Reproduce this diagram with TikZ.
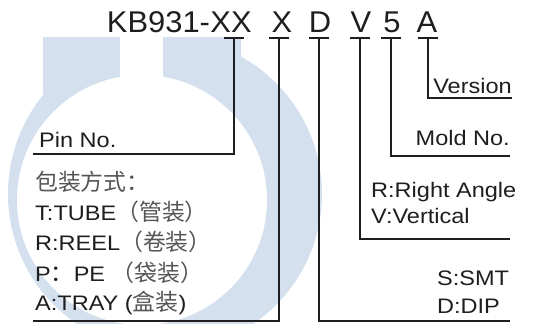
\documentclass[tikz,border=0pt]{standalone}
\usepackage{fontspec}
\setmainfont{Liberation Sans}[FakeStretch=1.12]
\newfontfamily\titlefont{Liberation Sans}[FakeStretch=1.03]
\newfontfamily\cjk{Noto Sans CJK SC}[Scale=1.09]
\usepackage{xcolor}
\usepackage{tikz}
\usetikzlibrary{positioning}
\definecolor{logoblue}{RGB}{212,224,238}
\definecolor{ink}{RGB}{30,30,30}
\definecolor{hanzi}{RGB}{85,85,85}

\begin{document}
\begin{tikzpicture}[x=1pt,y=-1pt,
    lead/.style={draw=ink,line width=1.6pt},
    lbl/.style={inner sep=0pt,text=ink,font=\fontsize{21}{25}\selectfont},
    head/.style={inner sep=0pt,text=ink,anchor=base,font=\titlefont\fontsize{30}{35}\selectfont}]
    \useasboundingbox (0,0) rectangle (542,324);

    % Watermark
    \begin{scope}
        \clip (0,37) rectangle (542,324);
        \fill[logoblue] (165,194) circle[radius=157pt];
    \end{scope}
    \fill[logoblue] (43,37) rectangle (241,110);
    \fill[white] (142,200) circle[radius=125pt];
    \fill[white] (120,0) rectangle (163,100);

    % Part number
    \node[head] (xx) at (231,32) {XX};
    \node[head,anchor=base east] (kb) at (xx.base west) {KB931-};
    \node[head] (x) at (282,32) {X};
    \node[head] (d) at (320,32) {D};
    \node[head] (v) at (361,32) {V};
    \node[head] (five) at (392,32) {5};
    \node[head] (a) at (427,32) {A};

    % Bar tops
    \coordinate (txx) at (234,38);
    \coordinate (tx) at (279,38);
    \coordinate (td) at (319,38);
    \coordinate (tv) at (360,38);
    \coordinate (tfive) at (391,38);
    \coordinate (ta) at (428,38);
    \foreach \t in {txx,tx,td,tv,tfive,ta}
        \draw[lead] ([xshift=-10pt]\t) -- ([xshift=10pt]\t);

    % Line ends
    \coordinate (pinend) at (33,154);
    \coordinate (packend) at (33,321);
    \coordinate (dipend) at (510,321);
    \coordinate (vertend) at (510,239);
    \coordinate (moldend) at (510,156);
    \coordinate (verend) at (512,98);

    \draw[lead] (txx) |- (pinend);
    \draw[lead] (tx) |- (packend);
    \draw[lead] (td) |- (dipend);
    \draw[lead] (tv) |- (vertend);
    \draw[lead] (tfive) |- (moldend);
    \draw[lead] (ta) |- (verend);

    % Left labels
    \node[lbl,anchor=base west] (pin) at (39,147) {Pin No.};
    \node[lbl,anchor=base west,text=hanzi] (pack) at (35,190) {\cjk 包装方式：};
    \node[lbl,anchor=base west] (tube) at (35,220) {T:TUBE{\color{hanzi}\cjk（管装）}};
    \node[lbl,anchor=base west] (reel) at (35,250) {R:REEL{\color{hanzi}\cjk（卷装）}};
    \node[lbl,anchor=base west] (pe) at (35,281) {P{\cjk ：}PE {\color{hanzi}\cjk（袋装）}};
    \node[lbl,anchor=base west] (tray) at (35,310) {A:TRAY ({\color{hanzi}\cjk 盒装})};

    % Right labels
    \node[lbl,anchor=base east] (ver) at (512,93) {Version};
    \node[lbl,anchor=base east] (mold) at (510,145) {Mold No.};
    \node[lbl,anchor=base west] (right) at (371,197) {R:Right Angle};
    \node[lbl,anchor=base west] (vert) at (371,223) {V:Vertical};
    \node[lbl,anchor=base west] (smt) at (437,285) {S:SMT};
    \node[lbl,anchor=base west] (dip) at (437,313) {D:DIP};
\end{tikzpicture}
\end{document}
